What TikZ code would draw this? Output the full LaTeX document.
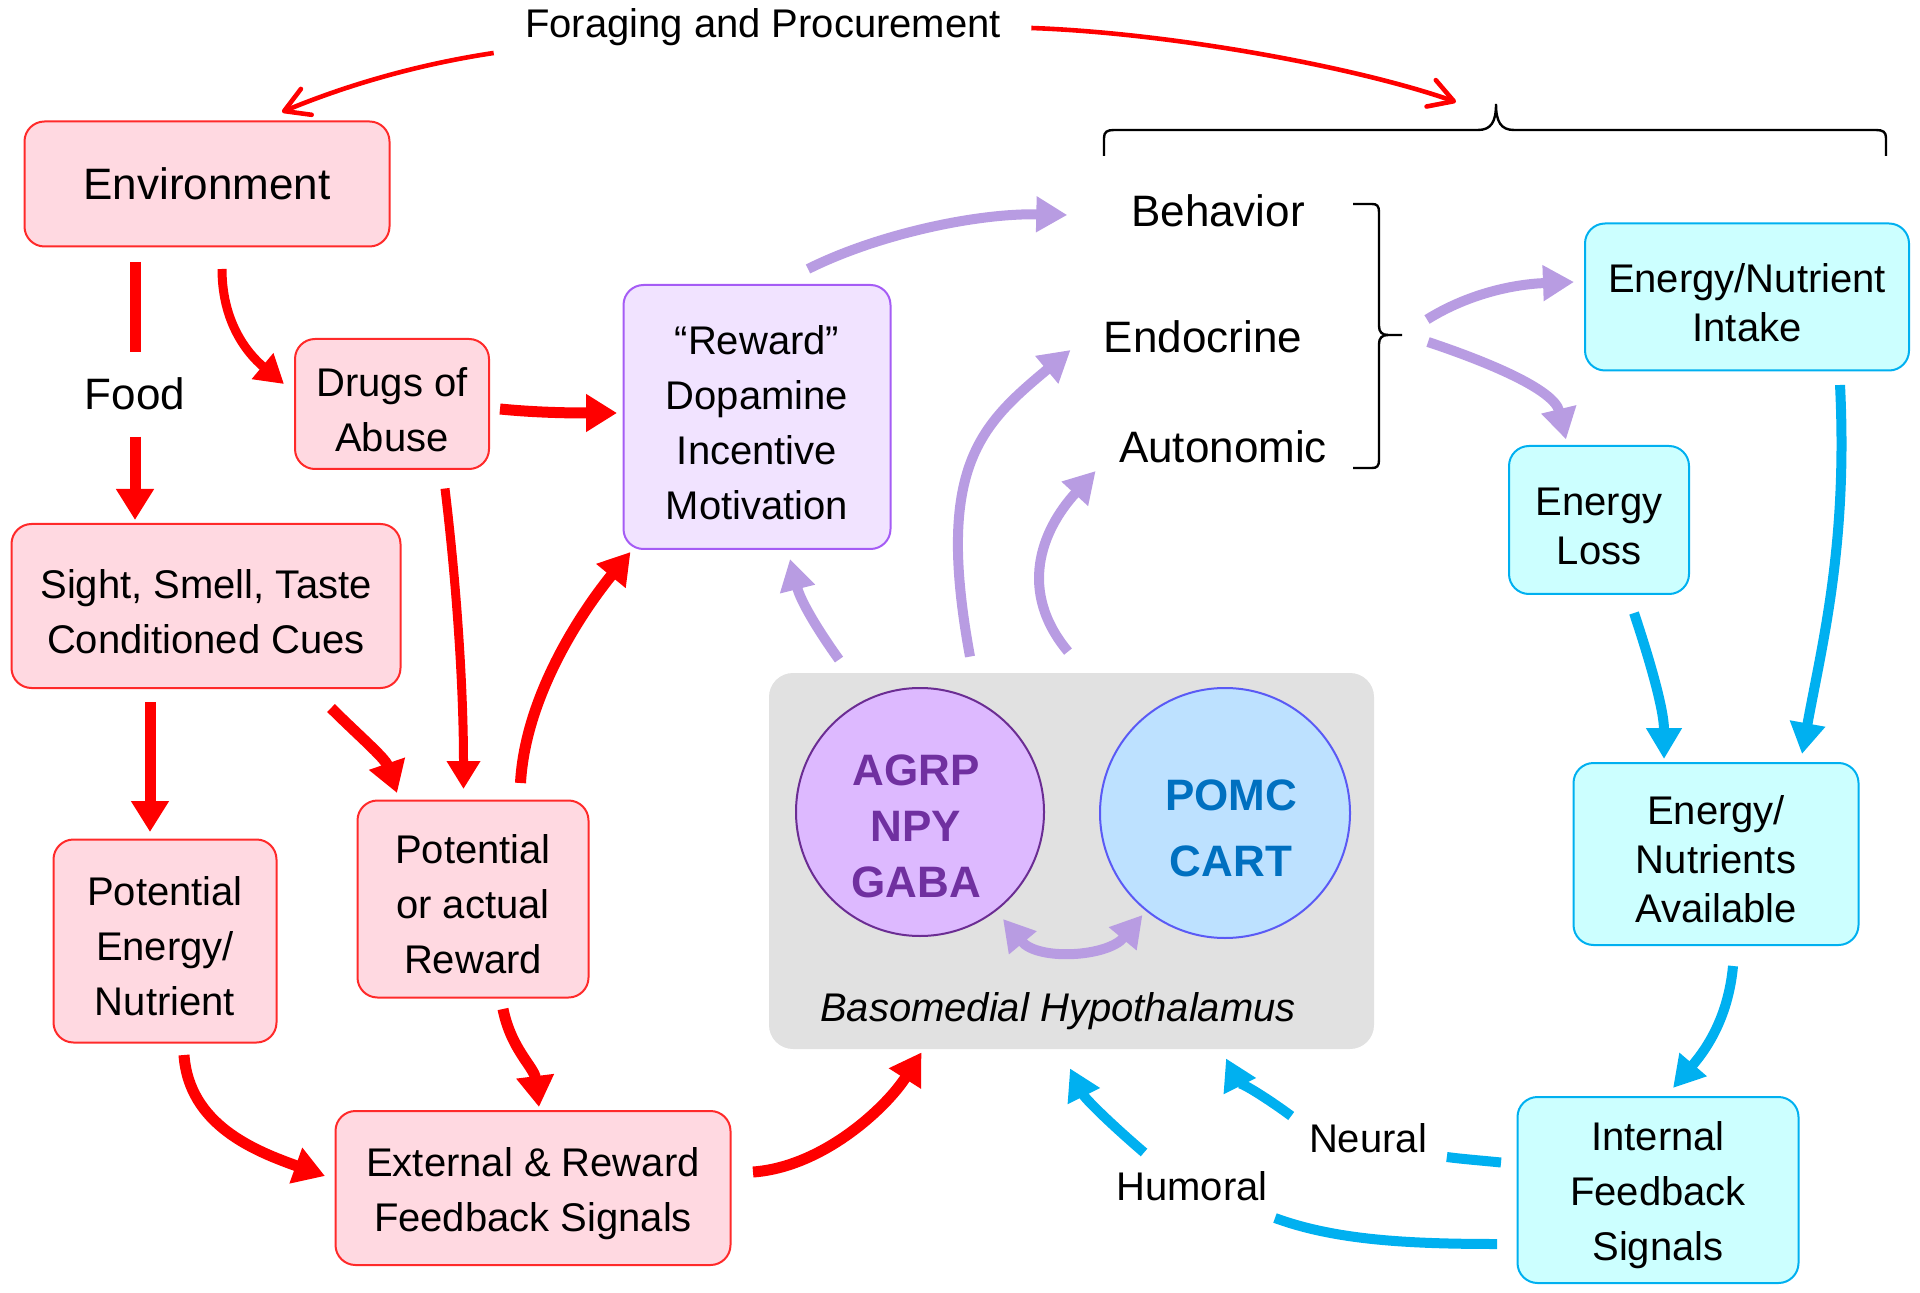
\documentclass[tikz,border=0pt]{standalone}
\usepackage{fontspec}
\setmainfont{Liberation Sans}
\usetikzlibrary{arrows.meta,calc}

\definecolor{boxred}{HTML}{FF2A2A}
\definecolor{pinkfill}{HTML}{FFD9E1}
\definecolor{arrowred}{HTML}{FF0000}
\definecolor{lilacfill}{HTML}{F1E3FF}
\definecolor{lilacdraw}{HTML}{A55CF5}
\definecolor{lilac}{HTML}{B89CE2}
\definecolor{cyanfill}{HTML}{CCFFFF}
\definecolor{cyandraw}{HTML}{00B0F0}
\definecolor{greyfill}{HTML}{E1E1E1}
\definecolor{agrpfill}{HTML}{DDB9FF}
\definecolor{agrpdraw}{HTML}{6B2D93}
\definecolor{agrptext}{HTML}{7030A0}
\definecolor{pomcfill}{HTML}{BDE1FF}
\definecolor{pomcdraw}{HTML}{5A5AF5}
\definecolor{pomctext}{HTML}{0070C0}

% taller first line, pushes box text down a little
\newcommand{\tstrut}{\rule{0pt}{20pt}}

\begin{document}
\begin{tikzpicture}[x=0.5pt,y=-0.5pt,
    every node/.style={font=\fontsize{20}{27.5}\selectfont},
    txt/.style={inner sep=0pt},
    bigtxt/.style={inner sep=0pt, font=\fontsize{22}{26}\selectfont},
    pinkbox/.style={draw=boxred, fill=pinkfill, line width=1pt, rounded corners=10pt, align=center, inner sep=0pt},
    lilacbox/.style={draw=lilacdraw, fill=lilacfill, line width=1pt, rounded corners=10pt, align=center, inner sep=0pt},
    cyanbox/.style={draw=cyandraw, fill=cyanfill, line width=1pt, rounded corners=10pt, align=center, inner sep=0pt,
      font=\fontsize{20}{24.5}\selectfont},
    redline/.style={draw=arrowred, line width=5.5pt},
    redarrow/.style={draw=arrowred, line width=5.5pt, -{Triangle[length=15.5pt,width=18pt]}},
    redthin/.style={draw=arrowred, line width=4.5pt, -{Triangle[length=14pt,width=16pt]}},
    redbarb/.style={draw=arrowred, line width=2.3pt, -{Straight Barb[length=12pt,width=14pt,round]}},
    lilacarrow/.style={draw=lilac, line width=5pt, -{Triangle[length=15.5pt,width=17pt]}},
    cyanline/.style={draw=cyandraw, line width=5pt},
    cyanarrow/.style={draw=cyandraw, line width=5pt, -{Triangle[length=15.5pt,width=17pt]}},
    bracketline/.style={draw=black, line width=1.2pt}]
  \useasboundingbox (0,0) rectangle (1920,1293);

  % hypothalamus
  \node[fill=greyfill, rounded corners=12pt, minimum width=302.5pt, minimum height=188pt] (bmh) at (1071.5,861) {};
  \node[circle, draw=agrpdraw, fill=agrpfill, line width=1pt, minimum size=124pt] (agrp) at (920,812) {};
  \node[circle, draw=pomcdraw, fill=pomcfill, line width=1pt, minimum size=125pt] (pomc) at (1225,813) {};
  \node[txt, align=center, text=agrptext, font=\fontsize{22}{28}\selectfont\bfseries] (agrptxt) at (916,826) {AGRP\\NPY\\GABA};
  \node[txt, align=center, text=pomctext, font=\fontsize{22}{33}\selectfont\bfseries] (pomctxt) at (1231,828) {POMC\\CART};
  \node[txt, font=\fontsize{20}{24}\selectfont\itshape] (bmhlabel) at (1058,1011) {Basomedial Hypothalamus};
  \draw[lilac, line width=5pt, {Triangle[length=15.5pt,width=17pt]}-{Triangle[length=15.5pt,width=17pt]}]
    ($(agrp.center)+(83,107)$) .. controls +(35,42) and +(-35,42) .. ($(pomc.center)+(-82.5,102)$);

  % red side
  \node[txt] (forage) at (763,27) {Foraging and Procurement};
  \node[pinkbox, font=\fontsize{22}{26}\selectfont, minimum width=182.5pt, minimum height=62.5pt] (env) at (207,184) {Environment};
  \node[bigtxt] (food) at (135,394) {Food};
  \node[pinkbox, minimum width=97pt, minimum height=65pt] (drugs) at (392,404) {\tstrut Drugs of\\Abuse};
  \node[pinkbox, minimum width=194.5pt, minimum height=82pt] (sight) at (206,606) {\tstrut Sight, Smell, Taste\\Conditioned Cues};
  \node[pinkbox, minimum width=111.5pt, minimum height=101.5pt] (penergy) at (165,941) {\tstrut Potential\\Energy/\\Nutrient};
  \node[pinkbox, minimum width=115.5pt, minimum height=98.5pt] (preward) at (473,899) {\tstrut Potential\\or actual\\Reward};
  \node[pinkbox, minimum width=197.5pt, minimum height=77pt] (extfb) at (533,1188) {\tstrut External \& Reward\\Feedback Signals};
  \node[lilacbox, minimum width=133.5pt, minimum height=132pt] (reward) at (757,417) {\tstrut``Reward''\\Dopamine\\Incentive\\Motivation};

  % outputs
  \node[bigtxt] (behav) at (1218,211) {Behavior};
  \node[bigtxt] (endo) at (1203,337) {Endocrine};
  \node[bigtxt] (auto) at (1223,447) {Autonomic};
  \coordinate (brk) at (1402,335);
  \coordinate (topbrace) at (1496,104);

  % blue side
  \node[cyanbox, minimum width=162pt, minimum height=73.5pt] (intake) at (1747,297) {\tstrut Energy/Nutrient\\Intake};
  \node[cyanbox, minimum width=90pt, minimum height=74pt] (loss) at (1599,520) {\tstrut Energy\\Loss};
  \node[cyanbox, minimum width=142.5pt, minimum height=91pt] (avail) at (1716,854) {\tstrut Energy/\\Nutrients\\Available};
  \node[cyanbox, font=\fontsize{20}{27.5}\selectfont, minimum width=140.5pt, minimum height=93pt] (intfb) at (1658,1190) {\tstrut Internal\\Feedback\\Signals};
  \node[txt] (neural) at (1368,1138.5) {Neural};
  \node[txt] (humoral) at (1192,1186) {Humoral};

  % braces
  \draw[bracketline] (1104,156) -- (1104,138) .. controls (1104,132) and (1107,130) .. (1114,130) -- (1478,130)
    .. controls (1491,130) and (1496,122) .. (topbrace) .. controls (1496,122) and (1501,130) .. (1514,130)
    -- (1876,130) .. controls (1883,130) and (1886,132) .. (1886,138) -- (1886,156);
  \draw[bracketline] (1353,204) -- (1372,204) .. controls (1377,204) and (1379,206) .. (1379,212) -- (1379,326)
    .. controls (1379,332) and (1382,335) .. (1388,335) -- (brk);
  \draw[bracketline] (1388,335) .. controls (1382,335) and (1379,338) .. (1379,344) -- (1379,460)
    .. controls (1379,466) and (1377,468) .. (1372,468) -- (1353,468);

  % red arrows
  \draw[redbarb] ($(forage.west)+(-31,26)$) .. controls +(-80,12) and +(60,-25) .. ($(env.north)+(75,-8.5)$);
  \draw[redbarb] ($(forage.east)+(30,1)$) .. controls +(140,5) and +(-100,-35) .. ($(topbrace)+(-40,-2)$);
  \draw[redline] ($(env.south)+(-72,14.5)$) -- ($(food.north)+(0,-25)$);
  \draw[redarrow] ($(food.south)+(0,26)$) -- ($(sight.north)+(-71,-3)$);
  \draw[redthin] ($(env.south)+(15,21.5)$) .. controls +(0,60) and +(-30,-25) .. ($(drugs.west)+(-10,-20)$);
  \draw[redarrow] ($(drugs.east)+(10,5)$) .. controls +(40,4) and +(-40,0) .. ($(reward.west)+(-5.5,-4)$);
  \draw[redthin] ($(drugs.south)+(53,18.5)$) .. controls +(12,100) and +(0,-100) .. ($(preward.north)+(-9.5,-10.5)$);
  \draw[redarrow] ($(sight.south)+(-56,13)$) -- ($(penergy.north)+(-15,-6.5)$);
  \draw[redarrow] ($(sight.south)+(125,19)$) .. controls +(25,25) and +(-12,-35) .. ($(preward.north)+(-76,-6.5)$);
  \draw[redarrow] ($(preward.north)+(47.5,-16.5)$) .. controls +(5,-90) and +(-45,55) .. ($(reward.south west)+(8,2)$);
  \draw[redarrow] ($(penergy.south)+(19,11.5)$) .. controls +(5,70) and +(-70,-25) .. ($(extfb.west)+(-9.5,-12)$);
  \draw[redarrow] ($(preward.south)+(30,10.5)$) .. controls +(8,40) and +(-5,-40) .. ($(extfb.north)+(6,-3)$);
  \draw[redarrow] ($(extfb.east)+(21.5,-16)$) .. controls +(70,-5) and +(-35,55) .. ($(bmh.south)+(-150,3)$);

  % lilac arrows
  \draw[lilacarrow] ($(reward.north)+(51,-15)$) .. controls +(70,-35) and +(-90,-2) .. ($(behav.west)+(-63.5,4)$);
  \draw[lilacarrow] ($(bmh.north)+(-232.5,-13)$) .. controls +(-25,-35) and +(10,40) .. ($(reward.south)+(33,9)$);
  \draw[lilacarrow] ($(bmh.north)+(-101.5,-16)$) .. controls +(-35,-190) and +(-90,75) .. ($(endo.west)+(-33,13)$);
  \draw[lilacarrow] ($(bmh.north)+(-3.5,-21)$) .. controls +(-50,-60) and +(-55,60) .. ($(auto.west)+(-23,24)$);
  \draw[lilacarrow] ($(brk)+(25,-15.5)$) .. controls +(45,-28) and +(-55,2) .. ($(intake.west)+(-10,-15)$);
  \draw[lilacarrow] ($(brk)+(26,7)$) .. controls +(60,20) and +(-12,-50) .. ($(loss.north)+(-33,-5.5)$);

  % cyan arrows
  \draw[cyanarrow] ($(intake.south)+(93,13.5)$) .. controls +(8,160) and +(20,-110) .. ($(avail.north)+(86,-8)$);
  \draw[cyanarrow] ($(loss.south)+(35,18)$) .. controls +(15,45) and +(0,-50) .. ($(avail.north)+(-52,-3)$);
  \draw[cyanarrow] ($(avail.south)+(17,20)$) .. controls +(-5,55) and +(30,-35) .. ($(intfb.north)+(15,-8)$);
  \draw[cyanline] ($(intfb.west)+(-15.5,-27.5)$) .. controls +(-20,-2) and +(15,2) .. ($(neural.east)+(19.5,18.5)$);
  \draw[cyanarrow] ($(neural.west)+(-17.5,-22.5)$) .. controls +(-20,-15) and +(10,20) .. ($(bmh.south)+(154.5,9)$);
  \draw[cyanline] ($(intfb.west)+(-19.5,54)$) .. controls +(-90,0) and +(60,22) .. ($(humoral.east)+(7,32)$);
  \draw[cyanarrow] ($(humoral.west)+(28,-33.5)$) .. controls +(-35,-30) and +(15,30) .. ($(bmh.south)+(-1.5,19)$);
\end{tikzpicture}
\end{document}
